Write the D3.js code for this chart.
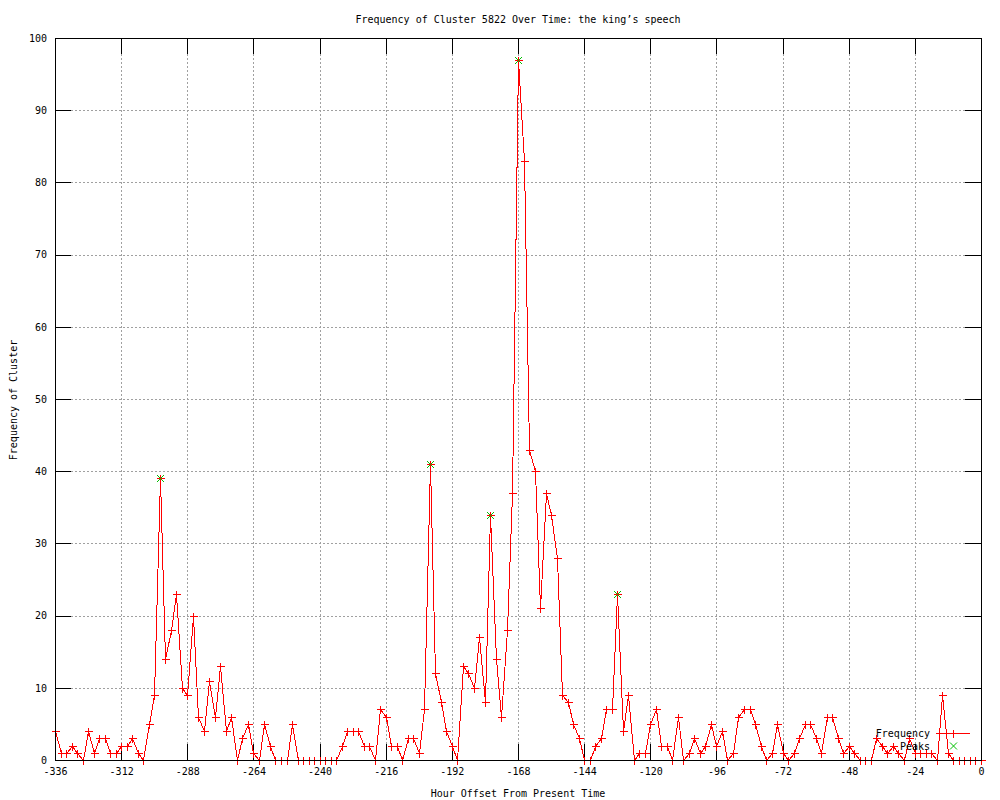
<!DOCTYPE html>
<html>
<head>
<meta charset="utf-8">
<script src="https://cdn.jsdelivr.net/npm/d3@7"></script>
<style>
  html, body { margin: 0; padding: 0; background: #fff; }
  svg { display: block; }
  text { font-family: "DejaVu Sans Mono", "Liberation Mono", monospace; font-size: 10px; fill: #000; }
</style>
</head>
<body>
<svg id="chart" width="1000" height="800"></svg>
<script>
// ---- data ----
const hours = [
  -336,-334,-332,-330,-328,-326,-324,-322,-320,-318,-316,-314,-312,-310,-308,-306,-304,-302,-300,-298,
  -296,-294,-292,-290,-288,-286,-284,-282,-280,-278,-276,-274,-272,-270,-268,-266,-264,-262,-260,-258,
  -256,-254,-252,-250,-248,-246,-244,-242,-240,-238,-236,-234,-232,-230,-228,-226,-224,-222,-220,-218,
  -216,-214,-212,-210,-208,-206,-204,-202,-200,-198,-196,-194,-192,-190,-188,-186,-184,-182,-180,-178,
  -176,-174,-172,-170,-168,-166,-164,-162,-160,-158,-156,-154,-152,-150,-148,-146,-144,-142,-140,-138,
  -136,-134,-132,-130,-128,-126,-124,-122,-120,-118,-116,-114,-112,-110,-108,-106,-104,-102,-100,-98,
  -96,-94,-92,-90,-88,-86,-84,-82,-80,-78,-76,-74,-72,-70,-68,-66,-64,-62,-60,-58,
  -56,-54,-52,-50,-48,-46,-44,-42,-40,-38,-36,-34,-32,-30,-28,-26,-24,-22,-20,-18,
  -16,-14,-12,-10,-8,-6,-4,-2,0
];
const frequency = [
  4,1,1,2,1,0,4,1,3,3,1,1,2,2,3,1,0,5,9,39,
  14,18,23,10,9,20,6,4,11,6,13,4,6,0,3,5,1,0,5,2,
  0,0,0,5,0,0,0,0,0,0,0,0,2,4,4,4,2,2,0,7,
  6,2,2,0,3,3,1,7,41,12,8,4,2,0,13,12,10,17,8,34,
  14,6,18,37,97,83,43,40,21,37,34,28,9,8,5,3,0,0,2,3,
  7,7,23,4,9,0,1,1,5,7,2,2,0,6,0,1,3,1,2,5,
  2,4,0,1,6,7,7,5,2,0,1,5,1,0,1,3,5,5,3,1,
  6,6,3,1,2,1,0,0,0,3,2,1,2,1,0,3,1,1,1,1,
  0,9,1,0,0,0,0,0,0
];
const peakHours = [-298, -200, -178, -168, -132];
const peakValues = [39, 41, 34, 97, 23];
const xTicks = [-336,-312,-288,-264,-240,-216,-192,-168,-144,-120,-96,-72,-48,-24,0];
const yTicks = [0,10,20,30,40,50,60,70,80,90,100];
const titleText = "Frequency of Cluster 5822 Over Time: the king\u2019s speech";
const xLabel = "Hour Offset From Present Time";
const yLabel = "Frequency of Cluster";
const seriesNames = ["Frequency", "Peaks"];

// ---- layout ----
const pL = 55, pR = 981, pT = 38, pB = 760;
const svg = d3.select("#chart");
const x = d3.scaleLinear().domain([-336, 0]).range([pL, pR]);
const y = d3.scaleLinear().domain([0, 100]).range([pB, pT]);
const RED = "#ff0000", GREEN = "#00c000", GRID = "#a0a0a0";

// grid
const grid = svg.append("g").attr("shape-rendering", "crispEdges");
grid.selectAll("line.gx").data(xTicks.filter(d => d !== -336 && d !== 0)).join("line")
  .attr("x1", d => Math.round(x(d)) + 0.5).attr("x2", d => Math.round(x(d)) + 0.5)
  .attr("y1", pT).attr("y2", pB)
  .attr("stroke", GRID).attr("stroke-dasharray", "2,2");
grid.selectAll("line.gy").data(yTicks.filter(d => d !== 0 && d !== 100)).join("line")
  .attr("y1", d => Math.round(y(d)) + 0.5).attr("y2", d => Math.round(y(d)) + 0.5)
  .attr("x1", pL).attr("x2", pR)
  .attr("stroke", GRID).attr("stroke-dasharray", "2,2");

// axes with inward mirrored ticks
const tickLen = 16;
function styleAxis(g) {
  g.select(".domain").remove();
  g.selectAll(".tick line").attr("stroke", "#000");
  g.selectAll("text").style("font-family", "DejaVu Sans Mono, monospace").style("font-size", "10px").attr("fill", "#000");
}
svg.append("g").attr("transform", `translate(0,${pB})`).attr("shape-rendering", "crispEdges")
  .call(d3.axisBottom(x).tickValues(xTicks).tickFormat(d => String(d)).tickSizeInner(-tickLen).tickSizeOuter(0).tickPadding(8))
  .call(styleAxis)
  .call(g => g.selectAll("text").attr("y", 8).attr("dy", "0.71em"));
svg.append("g").attr("transform", `translate(0,${pT})`).attr("shape-rendering", "crispEdges")
  .call(d3.axisTop(x).tickValues(xTicks).tickFormat("").tickSizeInner(-tickLen).tickSizeOuter(0))
  .call(styleAxis);
svg.append("g").attr("transform", `translate(${pL},0)`).attr("shape-rendering", "crispEdges")
  .call(d3.axisLeft(y).tickValues(yTicks).tickFormat(d => String(d)).tickSizeInner(-tickLen).tickSizeOuter(0).tickPadding(8))
  .call(styleAxis)
  .call(g => g.selectAll("text").attr("x", -8));
svg.append("g").attr("transform", `translate(${pR},0)`).attr("shape-rendering", "crispEdges")
  .call(d3.axisRight(y).tickValues(yTicks).tickFormat("").tickSizeInner(-tickLen).tickSizeOuter(0))
  .call(styleAxis);

// data line
const pts = hours.map((h, i) => [h, frequency[i]]);
svg.append("path")
  .datum(pts)
  .attr("fill", "none").attr("stroke", RED).attr("stroke-width", 1)
  .attr("shape-rendering", "crispEdges")
  .attr("d", d3.line().x(d => Math.round(x(d[0])) + 0.5).y(d => Math.round(y(d[1])) + 0.5));

// plus markers
const P = 4;
const plusPath = (cx, cy) => `M${cx - P},${cy}H${cx + P}M${cx},${cy - P}V${cy + P}`;
svg.append("g").attr("shape-rendering", "crispEdges")
  .selectAll("path").data(pts).join("path")
  .attr("d", d => plusPath(Math.round(x(d[0])) + 0.5, Math.round(y(d[1])) + 0.5))
  .attr("stroke", RED).attr("fill", "none");

// peak markers (x)
const X = 3.5;
const crossPath = (cx, cy) => `M${cx - X},${cy - X}L${cx + X},${cy + X}M${cx - X},${cy + X}L${cx + X},${cy - X}`;
const peaks = peakHours.map((h, i) => [h, peakValues[i]]);
svg.append("g")
  .selectAll("path").data(peaks).join("path")
  .attr("d", d => crossPath(Math.round(x(d[0])) + 0.5, Math.round(y(d[1])) + 0.5))
  .attr("stroke", GREEN).attr("fill", "none");

// border
svg.append("rect")
  .attr("x", pL + 0.5).attr("y", pT + 0.5)
  .attr("width", pR - pL).attr("height", pB - pT)
  .attr("fill", "none").attr("stroke", "#000").attr("shape-rendering", "crispEdges");

// legend
const lg = svg.append("g");
lg.append("text").attr("x", 930).attr("y", 733).attr("dy", "0.35em").attr("text-anchor", "end").text(seriesNames[0]);
lg.append("path").attr("d", "M936,733.5H970").attr("stroke", RED).attr("fill", "none").attr("shape-rendering", "crispEdges");
lg.append("path").attr("d", plusPath(953.5, 733.5)).attr("stroke", RED).attr("fill", "none").attr("shape-rendering", "crispEdges");
lg.append("text").attr("x", 930).attr("y", 746).attr("dy", "0.35em").attr("text-anchor", "end").text(seriesNames[1]);
lg.append("path").attr("d", crossPath(953.5, 746)).attr("stroke", GREEN).attr("fill", "none");

// titles
svg.append("text").attr("x", 518).attr("y", 19).attr("dy", "0.35em").attr("text-anchor", "middle").text(titleText);
svg.append("text").attr("x", 518).attr("y", 793).attr("dy", "0.35em").attr("text-anchor", "middle").text(xLabel);
svg.append("text").attr("transform", "translate(13,400) rotate(-90)").attr("dy", "0.35em").attr("text-anchor", "middle").text(yLabel);
</script>
</body>
</html>
